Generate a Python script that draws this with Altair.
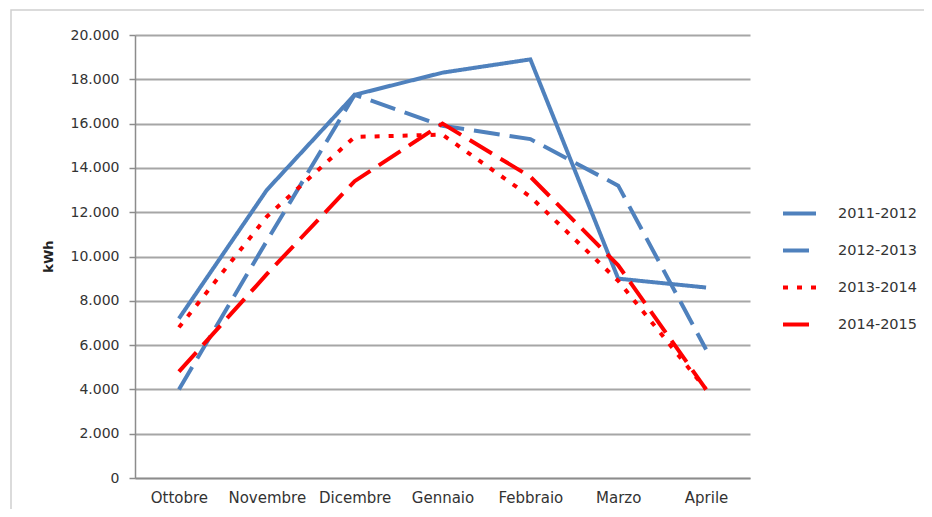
import altair as alt
import pandas as pd

months = ["Ottobre", "Novembre", "Dicembre", "Gennaio", "Febbraio", "Marzo", "Aprile"]
series = ["2011-2012", "2012-2013", "2013-2014", "2014-2015"]
s2011 = [7200, 13000, 17300, 18300, 18900, 9000, 8600]
s2012 = [4000, 10700, 17300, 15900, 15300, 13200, 5800]
s2013 = [6800, 11800, 15400, 15500, 12700, 8900, 4000]
s2014 = [4800, 9200, 13400, 16000, 13600, 9600, 4000]
colors = ["#4F81BD", "#4F81BD", "#FF0000", "#FF0000"]
dashes = [[1, 0], [26, 10], [5, 9], [26, 10]]
widths = [4, 4, 5, 5]

rows = []
for name, vals in zip(series, [s2011, s2012, s2013, s2014]):
    for m, v in zip(months, vals):
        rows.append({"Mese": m, "Serie": name, "kWh": v})
df = pd.DataFrame(rows)

FONT = "DejaVu Sans"

lines = alt.Chart(df).mark_line(strokeCap="butt", strokeJoin="miter").encode(
    x=alt.X("Mese:N", sort=months, scale=alt.Scale(type="point", padding=0.5),
            axis=alt.Axis(title=None, labelAngle=0, labelFontSize=15, labelFont=FONT,
                          labelColor="#333333", labelPadding=12, ticks=False,
                          domainColor="#8c8c8c", domainWidth=1.5, grid=False)),
    y=alt.Y("kWh:Q", scale=alt.Scale(domain=[0, 20000], nice=False),
            axis=alt.Axis(values=list(range(0, 20001, 2000)),
                          labelExpr="replace(format(datum.value, ','), ',', '.')",
                          labelFontSize=14, labelFont=FONT, labelColor="#333333",
                          labelPadding=10, tickSize=6, tickColor="#8c8c8c", tickWidth=1.5,
                          domainColor="#8c8c8c", domainWidth=1.5,
                          gridColor="#a6a6a6", gridWidth=2,
                          title="kWh", titleFont=FONT, titleFontSize=13, titleFontWeight="bold",
                          titleColor="#222222", titleAngle=-90, titleX=-87, titleY=221,
                          titleAlign="center", titleBaseline="middle")),
    color=alt.Color("Serie:N", sort=series,
                    scale=alt.Scale(domain=series, range=colors),
                    legend=alt.Legend(title=None, orient="none", legendX=646, legendY=160,
                                      symbolType="stroke", symbolSize=33 * 33,
                                      symbolStrokeWidth=4.5, labelFont=FONT,
                                      labelFontSize=14.5, labelColor="#333333",
                                      labelOffset=20, rowPadding=10, padding=0)),
    strokeDash=alt.StrokeDash("Serie:N", sort=series,
                              scale=alt.Scale(domain=series, range=dashes), legend=None),
    strokeWidth=alt.StrokeWidth("Serie:N", scale=alt.Scale(domain=series, range=widths),
                                legend=None),
    order=alt.Order("Serie:N"),
)

frame = alt.Chart(pd.DataFrame({"f": [0]})).mark_rect(
    fill=None, stroke="#d0d0d0", strokeWidth=1.5
).encode(x=alt.value(-124), x2=alt.value(793), y=alt.value(-25), y2=alt.value(477))

chart = alt.layer(frame, lines).properties(
    width=615, height=443,
    autosize=alt.AutoSizeParams(type="none"),
    padding={"left": 127, "top": 27, "right": 174, "bottom": 31},
    background="white",
).configure_view(stroke=None)

chart.save("out.html", embed_options={"renderer": "svg", "actions": False})
